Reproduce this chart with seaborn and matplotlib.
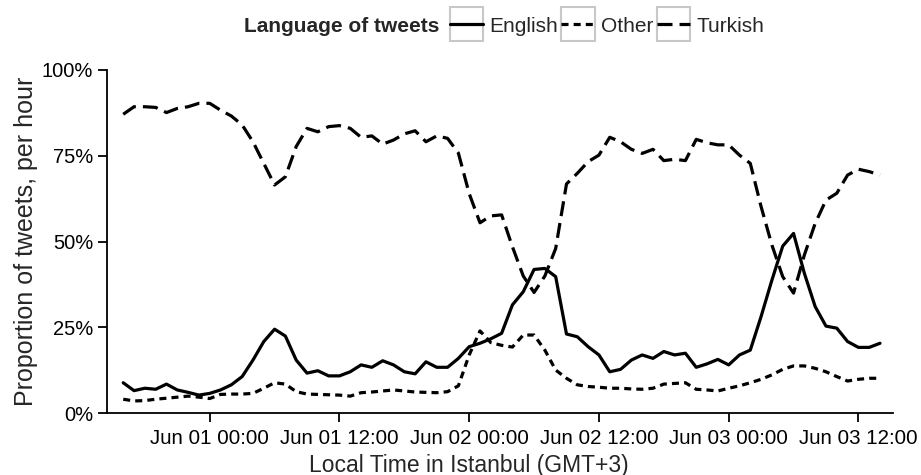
import numpy as np
import pandas as pd
import matplotlib
matplotlib.use('Agg')
import matplotlib.pyplot as plt
import matplotlib.dates as mdates
from matplotlib.ticker import PercentFormatter
from matplotlib.lines import Line2D
from matplotlib.patches import Rectangle
from matplotlib.legend_handler import HandlerLine2D
import seaborn as sns

# hourly share of tweets by language (percent), Istanbul local time
start_time = '2013-05-31 16:00'
languages = ['English', 'Other', 'Turkish']

english = [8.9, 6.6, 7.3, 7.0, 8.5, 6.8, 6.1, 5.3, 5.8, 6.8,
           8.3, 10.7, 15.5, 20.9, 24.5, 22.5, 15.5, 11.7, 12.4, 10.9,
           10.9, 12.1, 14.1, 13.4, 15.3, 14.1, 12.1, 11.5, 15.0, 13.4,
           13.4, 16.0, 19.4, 20.4, 21.7, 23.3, 31.6, 35.4, 41.9, 42.2,
           39.8, 23.1, 22.3, 19.4, 17.0, 12.1, 12.8, 15.5, 17.0, 16.0,
           18.0, 17.0, 17.5, 13.4, 14.4, 15.7, 14.1, 17.0, 18.4, 28.2,
           38.8, 48.7, 52.4, 40.8, 31.1, 25.4, 24.8, 20.9, 19.2, 19.2,
           20.4]
other = [4.1, 3.6, 3.7, 4.1, 4.4, 4.7, 5.0, 4.7, 4.3, 5.5,
         5.6, 5.6, 5.8, 7.3, 8.9, 8.5, 6.3, 5.6, 5.5, 5.4,
         5.3, 5.0, 6.0, 6.2, 6.5, 6.8, 6.5, 6.2, 6.1, 6.0,
         6.3, 8.0, 17.0, 24.0, 20.6, 19.8, 19.3, 22.8, 22.8, 18.4,
         12.6, 10.2, 8.3, 7.8, 7.6, 7.3, 7.3, 7.1, 7.0, 7.3,
         8.5, 8.7, 8.9, 7.0, 6.8, 6.5, 7.3, 8.0, 8.9, 9.9,
         11.2, 12.8, 13.8, 13.8, 13.1, 12.1, 10.7, 9.4, 9.9, 10.2,
         10.2]
turkish = [87.1, 89.3, 89.3, 89.1, 87.6, 88.8, 89.3, 90.3, 90.3, 88.3,
           86.6, 84.0, 79.1, 72.8, 66.5, 68.9, 77.7, 83.0, 82.0, 83.5,
           83.8, 83.0, 80.4, 80.8, 78.4, 79.6, 81.4, 82.3, 79.1, 80.8,
           80.1, 75.8, 64.0, 55.5, 57.5, 57.8, 48.5, 40.0, 35.2, 40.0,
           48.0, 66.8, 69.9, 73.3, 75.2, 80.4, 79.1, 76.9, 75.7, 76.9,
           73.6, 74.0, 73.6, 79.8, 78.8, 78.2, 78.2, 75.2, 72.8, 60.2,
           49.0, 39.8, 35.0, 46.1, 55.3, 62.1, 64.1, 69.4, 71.1, 70.4,
           69.4]

x_ticks = pd.date_range('2013-06-01 00:00', '2013-06-03 12:00', freq='12h')
y_ticks = [0, 25, 50, 75, 100]

times = pd.date_range(start_time, periods=len(english), freq='h')
df = pd.concat([
    pd.DataFrame({'time': times, 'share': vals, 'language': lang})
    for lang, vals in zip(languages, [english, other, turkish])
], ignore_index=True)

LW = 2.3
dash_map = {'English': '', 'Other': (2.2, 1.6), 'Turkish': (4.7, 2.2)}

sns.set_theme(style='ticks')
plt.rcParams['font.family'] = ['Liberation Sans', 'DejaVu Sans']

fig = plt.figure(figsize=(9.21, 4.75), dpi=100)
ax = fig.add_axes([107 / 921, 1 - 413.3 / 475, (893 - 107) / 921, (413.3 - 70) / 475])

sns.lineplot(data=df, x='time', y='share', style='language',
             style_order=languages, dashes=dash_map, color='black',
             linewidth=LW, legend=False, ax=ax)

ax.set_xlim(times[0] - pd.Timedelta(hours=1.5), times[-1] + pd.Timedelta(hours=1.2))
ax.set_ylim(0, 100)
ax.set_xticks(x_ticks)
ax.xaxis.set_major_formatter(mdates.DateFormatter('%b %d %H:%M'))
ax.set_yticks(y_ticks)
ax.yaxis.set_major_formatter(PercentFormatter(xmax=100, decimals=0))

ax.set_xlabel('Local Time in Istanbul (GMT+3)', fontsize=16.5)
ax.xaxis.set_label_coords(0.46, -0.118)
ax.set_ylabel('Proportion of tweets, per hour', fontsize=18, labelpad=3)
ax.tick_params(axis='x', labelsize=14.8, length=6.5, width=1.3, pad=5, color='black', labelcolor='black')
ax.tick_params(axis='y', labelsize=14.5, length=6.5, width=1.3, pad=3.5, color='black', labelcolor='black')
sns.despine(ax=ax)
for side in ['left', 'bottom']:
    ax.spines[side].set_linewidth(1.3)
    ax.spines[side].set_color('black')


class BoxedKey(HandlerLine2D):
    """Legend key drawn inside a light grey square, ggplot style."""

    def create_artists(self, legend, orig_handle, xdescent, ydescent,
                       width, height, fontsize, trans):
        arts = super().create_artists(legend, orig_handle, xdescent, ydescent,
                                      width, height, fontsize, trans)
        cy = (height - ydescent) / 2
        inset = 0.12 * width
        for a in arts:
            xs = a.get_xdata()
            if len(xs) == 2:
                a.set_xdata([xs[0] + inset, xs[1] - inset])
        box = Rectangle((-xdescent, cy - width / 2), width, width,
                        facecolor='white', edgecolor='#c8c8c8',
                        linewidth=1.5, transform=trans)
        return [box] + arts


handles = [Line2D([], [], color='black', linewidth=LW,
                  linestyle='-' if dash_map[l] == '' else (0, dash_map[l]))
           for l in languages]

legend_y = 1 - 26 / 475
fig.text(244 / 921, legend_y, 'Language of tweets', fontsize=15,
         fontweight='bold', ha='left', va='center')
fig.legend(handles, languages, loc='center left',
           bbox_to_anchor=(450 / 921, legend_y), ncol=3, frameon=False,
           fontsize=15, handlelength=1.6, handleheight=1.0,
           handletextpad=0.3, columnspacing=0.15, borderpad=0,
           borderaxespad=0, handler_map={Line2D: BoxedKey()})

fig.savefig('out.png', dpi=100)
